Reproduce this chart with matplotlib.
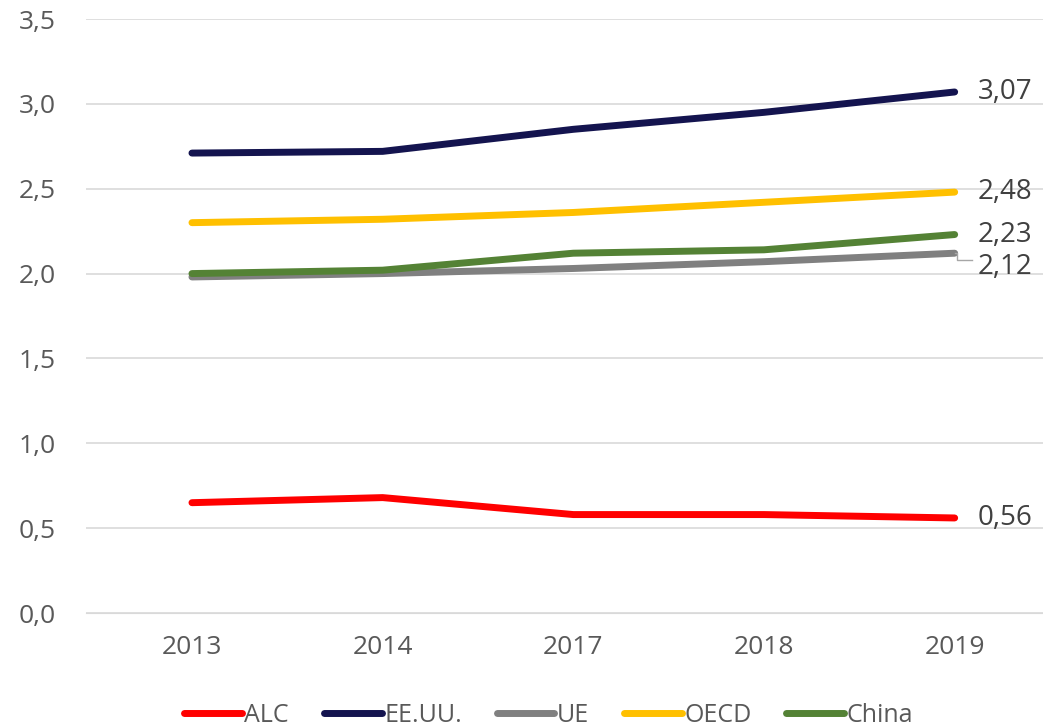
import matplotlib.pyplot as plt
import numpy as np

plt.rcParams['font.family'] = ['Open Sans', 'DejaVu Sans']

# datos
years = ['2013', '2014', '2017', '2018', '2019']
alc = [0.65, 0.68, 0.58, 0.58, 0.56]
eeuu = [2.71, 2.72, 2.85, 2.95, 3.07]
ue = [1.98, 2.00, 2.03, 2.07, 2.12]
oecd = [2.30, 2.32, 2.36, 2.42, 2.48]
china = [2.00, 2.02, 2.12, 2.14, 2.23]

fig = plt.figure(figsize=(10.43, 7.28), dpi=100)
ax = fig.add_axes([86 / 1043, 1 - 613 / 728, 964 / 1043, (613 - 19) / 728])

x = np.arange(len(years))
series = [('ALC', alc, '#FF0000'), ('EE.UU.', eeuu, '#14144F'),
          ('UE', ue, '#808080'), ('OECD', oecd, '#FFC000'),
          ('China', china, '#548235')]
for name, vals, col in series:
    ax.plot(x, vals, color=col, lw=5, solid_capstyle='round',
            solid_joinstyle='round', label=name)

# etiquetas finales
lbl_y = {'ALC': 0.56, 'EE.UU.': 3.07, 'UE': 2.04, 'OECD': 2.48, 'China': 2.23}
for name, vals, col in series:
    txt = f'{vals[-1]:.2f}'.replace('.', ',')
    ax.text(x[-1] + 0.12, lbl_y[name], txt, fontsize=20, color='#404040',
            va='center', ha='left')
# linea guia UE
ax.plot([x[-1], x[-1] + 0.01, x[-1] + 0.01, x[-1] + 0.09],
        [ue[-1], ue[-1], 2.08, 2.08], color='#A6A6A6', lw=1)

ax.set_xlim(-0.5557, 4.5)
ax.set_ylim(0, 3.5)
ax.set_yticks(np.arange(0, 3.51, 0.5))
ax.set_yticklabels([f'{v:.1f}'.replace('.', ',') for v in np.arange(0, 3.51, 0.5)])
ax.set_xticks(x)
ax.set_xticklabels(years)
ax.tick_params(axis='both', length=0, labelsize=19, colors='#595959')
ax.tick_params(axis='y', pad=22)
ax.tick_params(axis='x', pad=16)
ax.grid(axis='y', color='#D9D9D9', lw=1.2)
ax.set_axisbelow(True)
for s in ['top', 'right', 'left']:
    ax.spines[s].set_visible(False)
ax.spines['bottom'].set_color('#D9D9D9')

fig.legend(loc='center', bbox_to_anchor=(0.526, 0.017), ncol=5, frameon=False,
           fontsize=18, labelcolor='#595959', handlelength=2.3,
           handletextpad=0.1, columnspacing=1.4)

fig.savefig('out.png', dpi=100)
